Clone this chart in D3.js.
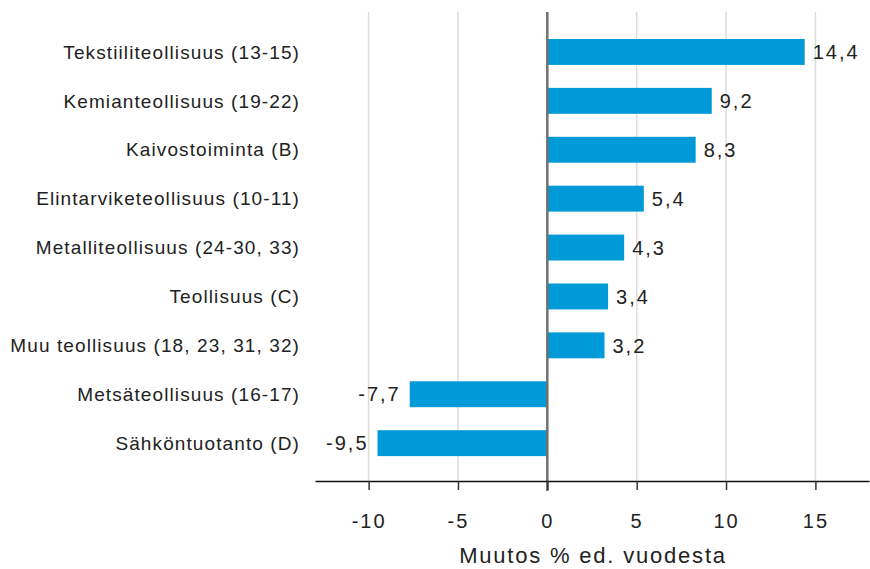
<!DOCTYPE html>
<html><head><meta charset="utf-8">
<script src="https://cdn.jsdelivr.net/npm/d3@7"></script>
<style>body{margin:0;background:#fff}svg{display:block}</style>
</head><body>
<script>
const categories = ["Tekstiiliteollisuus (13-15)","Kemianteollisuus (19-22)","Kaivostoiminta (B)","Elintarviketeollisuus (10-11)","Metalliteollisuus (24-30, 33)","Teollisuus (C)","Muu teollisuus (18, 23, 31, 32)","Metsäteollisuus (16-17)","Sähköntuotanto (D)"];
const values = [14.4, 9.2, 8.3, 5.4, 4.3, 3.4, 3.2, -7.7, -9.5];
const tickValues = [-10, -5, 0, 5, 10, 15];
const axisTitle = "Muutos % ed. vuodesta";

const W = 870, H = 569;
const svg = d3.select("body").append("svg").attr("width", W).attr("height", H);
const font = "'Liberation Sans', Arial, sans-serif";

const x = d3.scaleLinear().domain([-13, 18]).range([315, 869]);
const y = d3.scaleBand().domain(categories).range([27.5, 467.6]).paddingInner(0.47).paddingOuter(0.235);
const axisY = 481;

// gridlines
svg.append("g").selectAll("line").data(tickValues.filter(d => d !== 0)).join("line")
  .attr("x1", d => x(d)).attr("x2", d => x(d)).attr("y1", 12).attr("y2", axisY)
  .attr("stroke", "#dcdcdc").attr("stroke-width", 1.5);

// bars
svg.append("g").selectAll("rect").data(values).join("rect")
  .attr("x", d => x(Math.min(0, d))).attr("width", d => Math.abs(x(d) - x(0)))
  .attr("y", (d, i) => y(categories[i])).attr("height", y.bandwidth())
  .attr("fill", "#009ad8");

// zero line
svg.append("line").attr("x1", x(0)).attr("x2", x(0)).attr("y1", 12).attr("y2", 491)
  .attr("stroke", "#707070").attr("stroke-width", 2.5);

// x axis
const xAxis = d3.axisBottom(x).tickValues(tickValues).tickSize(9).tickSizeOuter(0).tickFormat(d => String(d));
const gx = svg.append("g").attr("transform", `translate(0,${axisY})`).call(xAxis);
gx.select(".domain").attr("stroke", "#111").attr("stroke-width", 1.5);
gx.selectAll(".tick line").attr("stroke", "#333").attr("stroke-width", 1.5);
gx.selectAll(".tick text").attr("font-family", font).attr("font-size", 20).attr("fill", "#222")
  .attr("dy", 0).attr("y", 47).style("letter-spacing", "2px");

// category labels
svg.append("g").selectAll("text").data(categories).join("text")
  .attr("x", 300).attr("y", d => y(d) + y.bandwidth() / 2).attr("dy", "0.35em")
  .attr("text-anchor", "end").attr("font-family", font).attr("font-size", 19).attr("fill", "#222")
  .style("letter-spacing", "1.1px")
  .text(d => d);

// value labels
svg.append("g").selectAll("text").data(values).join("text")
  .attr("x", d => d >= 0 ? x(d) + 8 : x(d) - 9)
  .attr("y", (d, i) => y(categories[i]) + y.bandwidth() / 2).attr("dy", "0.36em")
  .attr("text-anchor", d => d >= 0 ? "start" : "end")
  .attr("font-family", font).attr("font-size", 20).attr("fill", "#222").style("letter-spacing", "2px")
  .text(d => String(d).replace(".", ","));

// axis title
svg.append("text").attr("x", (x(-13) + x(18)) / 2 + 1).attr("y", 563).attr("text-anchor", "middle")
  .attr("font-family", font).attr("font-size", 22).attr("fill", "#222").style("letter-spacing", "1.8px")
  .text(axisTitle);
</script>
</body></html>
